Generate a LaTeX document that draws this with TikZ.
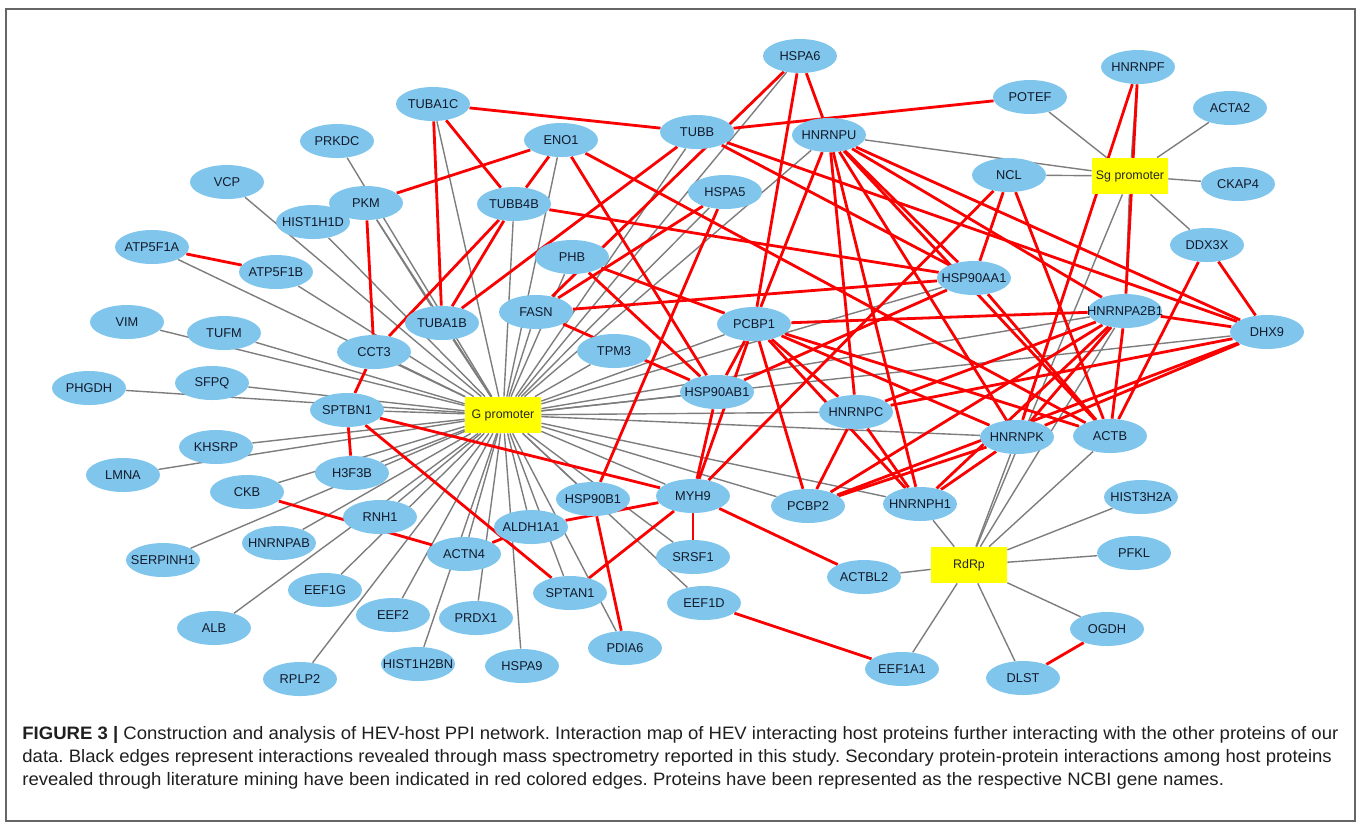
\documentclass[tikz,border=0pt]{standalone}
\usepackage{fontspec}
\setmainfont{Liberation Sans}
\newfontfamily\capfont{Liberation Sans}[FakeStretch=1.03]
\usetikzlibrary{shapes.geometric}
\frenchspacing

\definecolor{protblue}{RGB}{128,198,236}
\definecolor{hubyellow}{RGB}{255,255,0}
\definecolor{msgray}{RGB}{125,125,125}
\definecolor{litred}{RGB}{250,0,0}
\definecolor{labelink}{RGB}{18,26,44}

\pgfdeclarelayer{edges}
\pgfsetlayers{edges,main}

\tikzset{
  prot/.style={ellipse, fill=protblue, minimum width=37pt, minimum height=17pt,
    inner sep=0pt, text=labelink, font=\fontsize{6.4}{7}\selectfont,
    execute at begin node={\setbox0\hbox\bgroup},
    execute at end node={\egroup\makebox[0pt]{\box0}}},
  hub/.style={rectangle, fill=hubyellow, minimum width=38pt, minimum height=18pt,
    inner sep=0pt, text=black!85, font=\fontsize{6.2}{7}\selectfont},
  msedge/.style={draw=msgray, line width=0.7pt},
  litedge/.style={draw=litred, line width=1.4pt},
  capline/.style={anchor=base west, inner sep=0pt, text=black!88,
    font=\capfont\fontsize{9}{10}\selectfont},
}

\begin{document}
\begin{tikzpicture}[x=0.5pt, y=-0.5pt]

    \useasboundingbox (0,0) rectangle (1358,827);
    \draw[black!60, line width=0.6pt] (6,9) rectangle (1355,821);

    % Hubs (viral bait)
    \node[hub] (Gprom) at (503,415) {G promoter};
    \node[hub] (Sgprom) at (1130,176) {Sg promoter};
    \node[hub] (RdRp) at (969,565) {RdRp};

    % Nodes (host proteins)
    \node[prot] (HSPA6) at (800,56) {HSPA6};
    \node[prot] (HNRNPF) at (1138,67) {HNRNPF};
    \node[prot] (POTEF) at (1030,97) {POTEF};
    \node[prot] (ACTA2) at (1230,108) {ACTA2};
    \node[prot] (TUBA1C) at (433,104) {TUBA1C};
    \node[prot] (TUBB) at (697,132) {TUBB};
    \node[prot] (HNRNPU) at (829,135) {HNRNPU};
    \node[prot] (ENO1) at (561,140) {ENO1};
    \node[prot] (PRKDC) at (337,141) {PRKDC};
    \node[prot] (NCL) at (1009,175) {NCL};
    \node[prot] (CKAP4) at (1238,184) {CKAP4};
    \node[prot] (VCP) at (227,182) {VCP};
    \node[prot] (HIST1H1D) at (313,222) {HIST1H1D};
    \node[prot] (PKM) at (366,203) {PKM};
    \node[prot] (TUBB4B) at (514,204) {TUBB4B};
    \node[prot] (HSPA5) at (725,192) {HSPA5};
    \node[prot] (ATP5F1A) at (152,247) {ATP5F1A};
    \node[prot] (ATP5F1B) at (276,272) {ATP5F1B};
    \node[prot] (DDX3X) at (1207,245) {DDX3X};
    \node[prot] (PHB) at (572,257) {PHB};
    \node[prot] (HSP90AA1) at (974,278) {HSP90AA1};
    \node[prot] (HNRNPA2B1) at (1125,311) {HNRNPA2B1};
    \node[prot] (DHX9) at (1267,332) {DHX9};
    \node[prot] (VIM) at (127,322) {VIM};
    \node[prot] (TUFM) at (224,333) {TUFM};
    \node[prot] (FASN) at (536,312) {FASN};
    \node[prot] (TUBA1B) at (442,323) {TUBA1B};
    \node[prot] (CCT3) at (374,352) {CCT3};
    \node[prot] (TPM3) at (614,351) {TPM3};
    \node[prot] (PCBP1) at (754,324) {PCBP1};
    \node[prot] (PHGDH) at (89,388) {PHGDH};
    \node[prot] (SFPQ) at (212,383) {SFPQ};
    \node[prot] (SPTBN1) at (347,410) {SPTBN1};
    \node[prot] (HSP90AB1) at (717,392) {HSP90AB1};
    \node[prot] (HNRNPC) at (856,412) {HNRNPC};
    \node[prot] (HNRNPK) at (1017,437) {HNRNPK};
    \node[prot] (ACTB) at (1110,436) {ACTB};
    \node[prot] (KHSRP) at (216,447) {KHSRP};
    \node[prot] (LMNA) at (123,475) {LMNA};
    \node[prot] (H3F3B) at (352,473) {H3F3B};
    \node[prot] (CKB) at (247,492) {CKB};
    \node[prot] (MYH9) at (693,496) {MYH9};
    \node[prot] (PCBP2) at (808,506) {PCBP2};
    \node[prot] (HNRNPH1) at (920,504) {HNRNPH1};
    \node[prot] (HSP90B1) at (593,499) {HSP90B1};
    \node[prot] (HIST3H2A) at (1141,497) {HIST3H2A};
    \node[prot] (ALDH1A1) at (531,527) {ALDH1A1};
    \node[prot] (RNH1) at (380,517) {RNH1};
    \node[prot] (SRSF1) at (693,557) {SRSF1};
    \node[prot] (HNRNPAB) at (279,543) {HNRNPAB};
    \node[prot] (SERPINH1) at (163,560) {SERPINH1};
    \node[prot] (ACTN4) at (464,554) {ACTN4};
    \node[prot] (PFKL) at (1134,553) {PFKL};
    \node[prot] (ACTBL2) at (864,577) {ACTBL2};
    \node[prot] (SPTAN1) at (570,593) {SPTAN1};
    \node[prot] (EEF1G) at (325,590) {EEF1G};
    \node[prot] (EEF2) at (393,615) {EEF2};
    \node[prot] (PRDX1) at (476,618) {PRDX1};
    \node[prot] (EEF1D) at (704,603) {EEF1D};
    \node[prot] (OGDH) at (1107,629) {OGDH};
    \node[prot] (ALB) at (214,628) {ALB};
    \node[prot] (PDIA6) at (625,648) {PDIA6};
    \node[prot] (HSPA9) at (522,666) {HSPA9};
    \node[prot] (HIST1H2BN) at (418,664) {HIST1H2BN};
    \node[prot] (EEF1A1) at (902,669) {EEF1A1};
    \node[prot] (DLST) at (1023,678) {DLST};
    \node[prot] (RPLP2) at (300,679) {RPLP2};

    \begin{pgfonlayer}{edges}
    % Edges: mass spectrometry (grey)
    \foreach \p in {TUBA1C,PRKDC,VCP,HIST1H1D,PKM,ATP5F1A,ATP5F1B,VIM,TUFM,CCT3,
        TUBA1B,PHGDH,SFPQ,SPTBN1,KHSRP,LMNA,H3F3B,CKB,SERPINH1,HNRNPAB,RNH1,
        EEF1G,ALB,RPLP2,EEF2,HIST1H2BN,ACTN4,PRDX1,HSPA9,ALDH1A1,SPTAN1,PDIA6,
        HSP90B1,SRSF1,EEF1D,MYH9,PCBP2,HNRNPH1,HNRNPK,HNRNPC,DHX9,HNRNPA2B1,
        HSP90AA1,HSP90AB1,PCBP1,TPM3,FASN,PHB,TUBB4B,ENO1,TUBB,HSPA5,HSPA6,HNRNPU}
      \draw[msedge] (Gprom) -- (\p);
    \foreach \p in {POTEF,HNRNPF,ACTA2,CKAP4,DDX3X,NCL,HNRNPU,HNRNPA2B1}
      \draw[msedge] (Sgprom) -- (\p);
    \foreach \p in {HNRNPK,Sgprom,HNRNPA2B1,ACTB,HNRNPH1,HIST3H2A,PFKL,OGDH,
        DLST,EEF1A1,ACTBL2}
      \draw[msedge] (RdRp) -- (\p);
    \draw[msedge] (PKM) -- (TUBA1B);

    % Edges: literature mining (red)
    \foreach \a/\b in {ATP5F1A/ATP5F1B,PKM/ENO1,PKM/CCT3,CCT3/SPTBN1,
        SPTBN1/H3F3B,CCT3/TUBB4B,TUBA1C/TUBA1B,TUBA1C/TUBB4B,TUBA1C/TUBB,
        TUBB4B/TUBA1B,TUBB/TUBA1B,ENO1/TUBB4B,FASN/HSPA5,FASN/HSPA6,
        FASN/HSP90AB1,FASN/HSP90AA1,PHB/HSP90AB1,PHB/PCBP1,ENO1/HSP90AB1,
        ENO1/ACTB,TUBB4B/HSP90AA1,TUBB/POTEF,TUBB/HSP90AA1,TUBB/DHX9,
        HSPA6/HNRNPU,HSPA6/PCBP1,HSPA5/HSP90B1,HNRNPU/PCBP1,HNRNPU/HNRNPC,
        HNRNPU/HNRNPH1,HNRNPU/HNRNPK,HNRNPU/ACTB,HNRNPU/HSP90AA1,
        HNRNPU/HNRNPA2B1,HNRNPU/DHX9,NCL/MYH9,NCL/HSP90AA1,NCL/ACTB,
        HNRNPF/HNRNPK,HNRNPF/HNRNPA2B1,DDX3X/DHX9,DDX3X/ACTB,
        HSP90AA1/HSP90AB1,HSP90AA1/ACTB,HNRNPA2B1/PCBP1,HNRNPA2B1/DHX9,
        HNRNPA2B1/HNRNPK,HNRNPA2B1/ACTB,HNRNPA2B1/HNRNPH1,HNRNPA2B1/PCBP2,
        HNRNPA2B1/HNRNPC,DHX9/HNRNPC,DHX9/HNRNPK,DHX9/PCBP2,
        PCBP1/HSP90AB1,PCBP1/HNRNPC,PCBP1/PCBP2,PCBP1/HNRNPH1,PCBP1/HNRNPK,
        PCBP1/ACTB,PCBP1/MYH9,HSP90AB1/MYH9,HNRNPC/PCBP2,HNRNPC/HNRNPH1,
        PCBP2/HNRNPK,HNRNPH1/HNRNPK,SPTBN1/MYH9,SPTBN1/SPTAN1,CKB/ACTN4,
        ACTN4/ALDH1A1,ALDH1A1/MYH9,MYH9/SPTAN1,MYH9/SRSF1,MYH9/ACTBL2,
        HSP90B1/PDIA6,EEF1D/EEF1A1,OGDH/DLST}
      \draw[litedge] (\a) -- (\b);
    \end{pgfonlayer}

    % Caption
    \node[capline] (capA) at (22,739) {\textbf{FIGURE 3 |} Construction and analysis of HEV-host PPI network. Interaction map of HEV interacting host proteins further interacting with the other proteins of our};
    \node[capline] (capB) at (22,762) {data. Black edges represent interactions revealed through mass spectrometry reported in this study. Secondary protein-protein interactions among host proteins};
    \node[capline] (capC) at (22,785) {revealed through literature mining have been indicated in red colored edges. Proteins have been represented as the respective NCBI gene names.};

\end{tikzpicture}
\end{document}
